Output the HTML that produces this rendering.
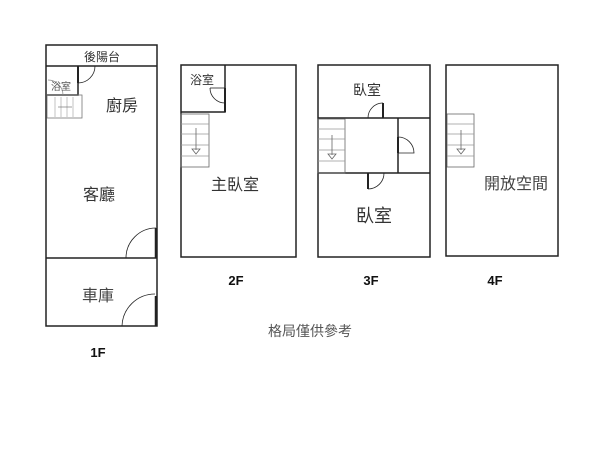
<!DOCTYPE html>
<html><head><meta charset="utf-8"><style>
html,body{margin:0;padding:0;background:#fff;width:600px;height:450px;overflow:hidden}
text{font-family:"Liberation Sans","Noto Sans CJK TC",sans-serif}
</style></head><body>
<svg width="600" height="450" viewBox="0 0 600 450" xmlns="http://www.w3.org/2000/svg">
<g fill="none" stroke="#222" stroke-width="1.5">
<!-- 1F -->
<rect x="46" y="45" width="111" height="281"/>
<line x1="46" y1="66" x2="157" y2="66"/>
<line x1="46" y1="258" x2="157" y2="258"/>
<polyline points="47,95 78,95 78,66"/>
<rect x="47" y="95" width="35" height="23" stroke-width="0.8" stroke="#777"/>
<line x1="55" y1="97" x2="55" y2="117" stroke="#aaa" stroke-width="0.7"/>
<line x1="61" y1="97" x2="61" y2="117" stroke="#aaa" stroke-width="0.7"/>
<line x1="67" y1="97" x2="67" y2="117" stroke="#aaa" stroke-width="0.7"/>
<line x1="73" y1="97" x2="73" y2="117" stroke="#aaa" stroke-width="0.7"/>
<line x1="58" y1="107" x2="72" y2="107" stroke="#777" stroke-width="0.7"/>
<line x1="78" y1="66" x2="78" y2="83" stroke-width="2"/>
<path d="M78,83 A17,17 0 0 0 95,66" stroke-width="0.8"/>
<path d="M48,80 A15,15 0 0 1 63,95" stroke-width="0.7" stroke="#888"/>
<line x1="156" y1="228" x2="156" y2="258" stroke-width="2.5"/>
<path d="M126,258 A30,30 0 0 1 156,228" stroke-width="0.8"/>
<line x1="156" y1="296" x2="156" y2="326" stroke-width="2.5"/>
<path d="M122,326 A33,33 0 0 1 155,294" stroke-width="0.8"/>
<!-- 2F -->
<rect x="181" y="65" width="115" height="192"/>
<polyline points="181,112 225,112 225,65"/>
<line x1="225" y1="88" x2="225" y2="112" stroke-width="2"/>
<path d="M210,88 A15,15 0 0 0 225,103" stroke-width="0.8"/>
<line x1="210" y1="88" x2="225" y2="88" stroke-width="0.8"/>
<rect x="181" y="114" width="28" height="53" stroke-width="0.8" stroke="#666"/>
<g stroke="#999" stroke-width="0.7"><line x1="181" y1="124" x2="209" y2="124"/><line x1="181" y1="134" x2="209" y2="134"/><line x1="181" y1="145" x2="209" y2="145"/><line x1="181" y1="156" x2="209" y2="156"/></g>
<line x1="196" y1="128" x2="196" y2="150" stroke="#666" stroke-width="0.8"/>
<polygon points="192,149 200,149 196,154" stroke="#666" stroke-width="0.8"/>
<!-- 3F -->
<rect x="318" y="65" width="112" height="192"/>
<line x1="318" y1="118" x2="430" y2="118"/>
<line x1="318" y1="173" x2="430" y2="173"/>
<line x1="398" y1="118" x2="398" y2="173"/>
<rect x="318" y="119" width="27" height="54" stroke-width="0.8" stroke="#666"/>
<g stroke="#999" stroke-width="0.7"><line x1="318" y1="129" x2="345" y2="129"/><line x1="318" y1="139" x2="345" y2="139"/><line x1="318" y1="150" x2="345" y2="150"/><line x1="318" y1="161" x2="345" y2="161"/></g>
<line x1="332" y1="135" x2="332" y2="155" stroke="#666" stroke-width="0.8"/>
<polygon points="328,154 336,154 332,159" stroke="#666" stroke-width="0.8"/>
<line x1="383" y1="103" x2="383" y2="118" stroke-width="2"/>
<path d="M368,118 A15,15 0 0 1 383,103" stroke-width="0.8"/>
<line x1="368" y1="173" x2="368" y2="189" stroke-width="2"/>
<path d="M368,189 A16,16 0 0 0 384,173" stroke-width="0.8"/>
<line x1="398" y1="137" x2="398" y2="153" stroke-width="2"/>
<path d="M398,137 A16,16 0 0 1 414,153 L398,153" stroke-width="0.8"/>
<!-- 4F -->
<rect x="446" y="65" width="112" height="191"/>
<rect x="447" y="114" width="27" height="53" stroke-width="0.8" stroke="#666"/>
<g stroke="#999" stroke-width="0.7"><line x1="447" y1="124" x2="474" y2="124"/><line x1="447" y1="134" x2="474" y2="134"/><line x1="447" y1="145" x2="474" y2="145"/><line x1="447" y1="156" x2="474" y2="156"/></g>
<line x1="461" y1="130" x2="461" y2="150" stroke="#666" stroke-width="0.8"/>
<polygon points="457,149 465,149 461,154" stroke="#666" stroke-width="0.8"/>
</g>
<g fill="#333">
<text x="102" y="61" font-size="12" text-anchor="middle">後陽台</text>
<text x="61" y="90" font-size="10" text-anchor="middle" fill="#555">浴室</text>
<text x="122" y="111" font-size="16" text-anchor="middle">廚房</text>
<text x="99" y="200" font-size="16" text-anchor="middle">客廳</text>
<text x="98" y="301" font-size="16" text-anchor="middle" fill="#444">車庫</text>
<text x="202" y="84" font-size="12" text-anchor="middle">浴室</text>
<text x="235" y="190" font-size="16" text-anchor="middle">主臥室</text>
<text x="367" y="95" font-size="14" text-anchor="middle">臥室</text>
<text x="374" y="222" font-size="18" text-anchor="middle">臥室</text>
<text x="516" y="189" font-size="16" text-anchor="middle" fill="#444">開放空間</text>
<text x="310" y="336" font-size="14" text-anchor="middle" fill="#555">格局僅供參考</text>
<g font-weight="bold" font-size="13" fill="#111" text-anchor="middle">
<text x="98" y="357">1F</text>
<text x="236" y="285">2F</text>
<text x="371" y="285">3F</text>
<text x="495" y="285">4F</text>
</g>
</g>
</svg>
</body></html>
